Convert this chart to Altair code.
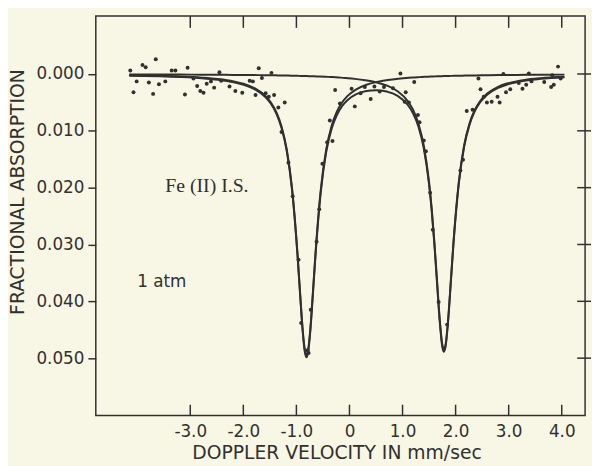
import altair as alt
import pandas as pd

# ---------------- data ----------------
pt_x = [-4.13, -4.07, -4.01, -3.90, -3.84, -3.78, -3.70, -3.65, -3.59, -3.47,
        -3.35, -3.28, -3.10, -3.05, -2.94, -2.87, -2.81, -2.75, -2.69, -2.61,
        -2.55, -2.45, -2.42, -2.26, -2.15, -2.02, -1.88, -1.82, -1.77, -1.71,
        -1.65, -1.58, -1.52, -1.47, -1.42, -1.34, -1.22, -1.28, -1.15, -1.07,
        -0.96, -0.91, -0.79, -0.77, -0.73, -0.62, -0.57, -0.51, -0.42, -0.32,
        -0.37, -0.27, -0.18, 0.04, 0.10, 0.21, 0.29, 0.40, 0.47, 0.57,
        0.65, 0.82, 0.96, 1.06, 1.04, 1.12, 1.22, 1.29, 1.32, 1.40,
        1.44, 1.52, 1.57, 1.68, 1.84, 2.09, 2.14, 2.21, 2.32, 2.43,
        2.47, 2.53, 2.59, 2.68, 2.79, 2.83, 2.95, 3.03, 3.19, 3.26,
        3.33, 3.43, 3.67, 3.80, 3.85, 3.93, 3.98, 2.90, 3.38, 3.82]
pt_y = [-0.0006, 0.0032, 0.0013, -0.0016, -0.0012, 0.0015, 0.0035, -0.0026, 0.0018, 0.0013,
        -0.0006, -0.0006, 0.0036, -0.0011, 0.0008, 0.0021, 0.0030, 0.0033, 0.0017, 0.0013,
        0.0024, -0.0003, 0.0012, 0.0022, 0.0030, 0.0033, 0.0012, 0.0013, 0.0037, -0.0010,
        0.0007, 0.0034, 0.0040, -0.0002, 0.0037, 0.0059, 0.0050, 0.0102, 0.0156, 0.0215,
        0.0327, 0.0438, 0.0486, 0.0491, 0.0415, 0.0295, 0.0238, 0.0158, 0.0120, 0.0118,
        0.0082, 0.0028, 0.0052, 0.0026, 0.0057, 0.0034, 0.0023, 0.0044, 0.0022, 0.0031,
        0.0023, 0.0025, -0.0001, 0.0032, 0.0049, 0.0050, 0.0014, 0.0072, 0.0085, 0.0117,
        0.0136, 0.0209, 0.0274, 0.0401, 0.0441, 0.0170, 0.0151, 0.0065, 0.0063, 0.0008,
        0.0027, 0.0040, 0.0050, 0.0049, 0.0040, 0.0050, 0.0032, 0.0027, 0.0016, 0.0026,
        0.0019, 0.0013, 0.0014, 0.0023, 0.0019, -0.0013, 0.0008, 0.0000, -0.0001, 0.0002]

# left-peak fitted line
left_x = [-4.15, -3.58, -3.18, -2.78, -2.48, -2.18, -1.98, -1.78, -1.58, -1.48,
          -1.38, -1.28, -1.18, -1.08, -0.98, -0.93, -0.88, -0.84, -0.81, -0.78,
          -0.74, -0.69, -0.64, -0.54, -0.44, -0.34, -0.24, -0.14, -0.04, 0.12,
          0.32, 0.52, 0.72, 0.92, 1.12, 1.22, 1.32, 1.42, 1.52, 1.57,
          1.62, 1.67, 1.72, 1.77, 1.80, 1.83, 1.88, 1.93, 1.98, 2.08,
          2.18, 2.28, 2.38, 2.48, 2.62, 2.82, 3.02, 3.32, 3.62, 4.05]
left_y = [0.00023, 0.00032, 0.00044, 0.00064, 0.00088, 0.00130, 0.00177, 0.00253, 0.00390, 0.00502,
          0.00667, 0.00923, 0.01336, 0.02029, 0.03151, 0.03854, 0.04513, 0.04864, 0.04950, 0.04864,
          0.04513, 0.03854, 0.03151, 0.02029, 0.01336, 0.00923, 0.00667, 0.00502, 0.00390, 0.00274,
          0.00189, 0.00138, 0.00105, 0.00082, 0.00066, 0.00060, 0.00055, 0.00050, 0.00046, 0.00044,
          0.00042, 0.00040, 0.00039, 0.00037, 0.00037, 0.00036, 0.00034, 0.00033, 0.00032, 0.00030,
          0.00028, 0.00026, 0.00025, 0.00023, 0.00021, 0.00019, 0.00017, 0.00015, 0.00013, 0.00011]

# right-peak fitted line
right_x = [-4.15, -3.6, -3.2, -2.8, -2.5, -2.2, -2.0, -1.8, -1.6, -1.5,
           -1.4, -1.3, -1.2, -1.1, -1.0, -0.95, -0.9, -0.86, -0.83, -0.80,
           -0.76, -0.71, -0.66, -0.56, -0.46, -0.36, -0.26, -0.16, -0.06, 0.1,
           0.3, 0.5, 0.7, 0.9, 1.1, 1.2, 1.3, 1.4, 1.5, 1.55,
           1.6, 1.65, 1.7, 1.75, 1.78, 1.81, 1.86, 1.91, 1.96, 2.06,
           2.16, 2.26, 2.36, 2.46, 2.6, 2.8, 3.0, 3.3, 3.6, 4.05]
right_y = [0.00007, 0.00008, 0.00010, 0.00012, 0.00013, 0.00016, 0.00017, 0.00019, 0.00021, 0.00023,
           0.00024, 0.00026, 0.00028, 0.00029, 0.00032, 0.00033, 0.00034, 0.00035, 0.00036, 0.00037,
           0.00038, 0.00039, 0.00041, 0.00044, 0.00048, 0.00053, 0.00058, 0.00064, 0.00072, 0.00086,
           0.00110, 0.00145, 0.00202, 0.00298, 0.00479, 0.00634, 0.00874, 0.01259, 0.01903, 0.02372,
           0.02957, 0.03636, 0.04306, 0.04765, 0.04850, 0.04765, 0.04306, 0.03636, 0.02957, 0.01903,
           0.01259, 0.00874, 0.00634, 0.00479, 0.00340, 0.00225, 0.00160, 0.00104, 0.00073, 0.00047]

# combined fitted line
total_x = [-4.15, -3.58, -3.18, -2.78, -2.48, -2.18, -1.98, -1.78, -1.58, -1.48,
           -1.38, -1.28, -1.18, -1.08, -0.98, -0.93, -0.88, -0.84, -0.81, -0.78,
           -0.74, -0.69, -0.64, -0.54, -0.44, -0.34, -0.24, -0.14, -0.04, 0.12,
           0.32, 0.5, 0.7, 0.9, 1.1, 1.2, 1.3, 1.4, 1.5, 1.55,
           1.6, 1.65, 1.7, 1.75, 1.78, 1.81, 1.86, 1.91, 1.96, 2.06,
           2.16, 2.26, 2.36, 2.46, 2.6, 2.8, 3.0, 3.3, 3.6, 4.05]
total_y = [0.00030, 0.00041, 0.00054, 0.00075, 0.00102, 0.00146, 0.00194, 0.00272, 0.00411, 0.00524,
           0.00692, 0.00949, 0.01364, 0.02058, 0.03183, 0.03887, 0.04547, 0.04899, 0.04986, 0.04900,
           0.04551, 0.03893, 0.03192, 0.02073, 0.01385, 0.00976, 0.00726, 0.00566, 0.00461, 0.00359,
           0.00300, 0.00285, 0.00308, 0.00380, 0.00545, 0.00695, 0.00928, 0.01309, 0.01948, 0.02415,
           0.02999, 0.03677, 0.04345, 0.04803, 0.04887, 0.04801, 0.04340, 0.03669, 0.02989, 0.01933,
           0.01287, 0.00900, 0.00659, 0.00502, 0.00361, 0.00244, 0.00177, 0.00119, 0.00086, 0.00058]

x_ticks = [-3, -2, -1, 0, 1, 2, 3, 4]
y_ticks = [0.0, 0.01, 0.02, 0.03, 0.04, 0.05]

# ---------------- styling ----------------
INK = "#303030"
BG = "#f8f6e4"
FONT = "DejaVu Sans"
X_DOMAIN = [-4.78, 4.44]
Y_DOMAIN = [-0.0102, 0.0601]
W, H = 496, 405

points = pd.DataFrame({"v": pt_x, "a": pt_y})
curves = pd.concat([
    pd.DataFrame({"v": left_x, "a": left_y, "c": "left"}),
    pd.DataFrame({"v": right_x, "a": right_y, "c": "right"}),
    pd.DataFrame({"v": total_x, "a": total_y, "c": "total"}),
])
xt = pd.DataFrame({"v": x_ticks})
yt = pd.DataFrame({"a": y_ticks})
note1 = pd.DataFrame({"v": [-3.47], "a": [0.0198], "t": ["Fe (II) I.S."]})
note2 = pd.DataFrame({"v": [-4.0], "a": [0.0366], "t": ["1 atm"]})

xs = alt.Scale(domain=X_DOMAIN, nice=False, zero=False)
ys = alt.Scale(domain=Y_DOMAIN, reverse=True, nice=False, zero=False)

XAX = alt.Axis(values=x_ticks,
               labelExpr="datum.value == 0 ? '0' : replace(format(datum.value, '.1f'), '\u2212', '-')",
               title="DOPPLER VELOCITY IN mm/sec", ticks=False, tickSize=0,
               domain=False, grid=False, labelPadding=8, labelFontSize=17,
               labelFont=FONT, labelColor=INK, labelFlush=False,
               titleFont=FONT, titleFontSize=19, titleFontWeight="normal",
               titleColor=INK, titleX=244, titleY=44, titleBaseline="alphabetic",
               titleAlign="center")
YAX = alt.Axis(values=y_ticks, format=".3f", title="FRACTIONAL ABSORPTION",
               ticks=True, tickSize=8, tickWidth=1.5, tickColor=INK,
               domain=False, grid=False, labelPadding=4, labelFontSize=17,
               labelFont=FONT, labelColor=INK, titleFont=FONT, titleFontSize=19,
               titleFontWeight="normal", titleColor=INK, titleAngle=270,
               titleX=-79, titleY=178, titleBaseline="middle", titleAlign="center")

X = lambda f: alt.X(f, scale=xs, axis=XAX)
Y = lambda f: alt.Y(f, scale=ys, axis=YAX)

pts = alt.Chart(points).mark_circle(size=16, color=INK, opacity=1).encode(
    x=X("v:Q"), y=Y("a:Q"))

lines = alt.Chart(curves).mark_line(color=INK, strokeWidth=2,
                                    interpolate="monotone").encode(
    x=X("v:Q"), y=Y("a:Q"), detail="c:N")

top_ticks = alt.Chart(xt).mark_rule(color=INK, strokeWidth=1.5).encode(
    x=X("v:Q"), y=alt.value(0), y2=alt.value(12))
bottom_ticks = alt.Chart(xt).mark_rule(color=INK, strokeWidth=1.5).encode(
    x=X("v:Q"), y=alt.value(H), y2=alt.value(H - 11))
right_ticks = alt.Chart(yt).mark_rule(color=INK, strokeWidth=1.5).encode(
    y=Y("a:Q"), x=alt.value(W - 8), x2=alt.value(W + 6))

t1 = alt.Chart(note1).mark_text(align="left", baseline="middle",
                                font="Liberation Serif", fontSize=20,
                                color=INK).encode(x=X("v:Q"), y=Y("a:Q"), text="t:N")
t2 = alt.Chart(note2).mark_text(align="left", baseline="middle", font=FONT,
                                fontSize=17, color=INK).encode(
    x=X("v:Q"), y=Y("a:Q"), text="t:N")

chart = alt.layer(lines, pts, top_ticks, bottom_ticks, right_ticks, t1, t2).properties(
    width=W, height=H, background=BG,
    padding={"left": 89, "top": 5, "right": 7, "bottom": 48},
    autosize=alt.AutoSizeParams(type="none"),
).configure_view(stroke=INK, strokeWidth=1.5)

chart.save("out.html", embed_options={"renderer": "svg", "actions": False})
